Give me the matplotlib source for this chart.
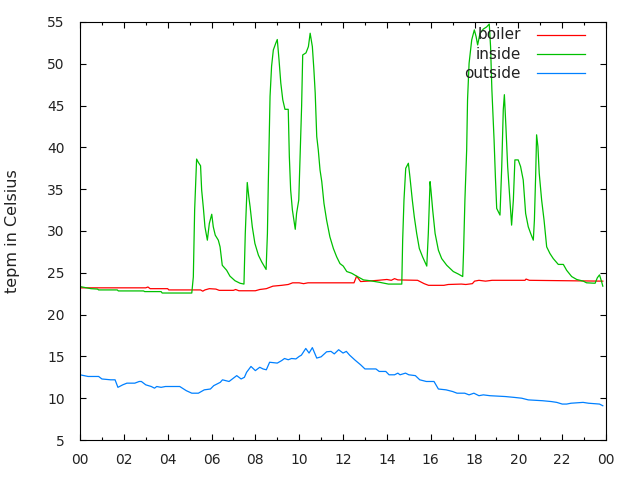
import matplotlib
matplotlib.use("Agg")
import matplotlib.pyplot as plt
from matplotlib.ticker import MultipleLocator
import numpy as np

# readings taken every few minutes over one day, (hour, celsius)
boiler = [
    (0, 23.2), (3.0, 23.2), (3.1, 23.3), (3.2, 23.1), (4.0, 23.1), (4.05, 22.95),
    (5.5, 22.95), (5.6, 22.8), (5.7, 22.95), (5.9, 23.1), (6.2, 23.05), (6.35, 22.9),
    (7.0, 22.9), (7.1, 23.0), (7.25, 22.85), (8.0, 22.85), (8.2, 23.0), (8.5, 23.1),
    (8.8, 23.4), (9.2, 23.5), (9.5, 23.6), (9.7, 23.8), (10.0, 23.8), (10.2, 23.7),
    (10.4, 23.8), (12.5, 23.8), (12.62, 24.6), (12.8, 23.95), (13.1, 24.0), (13.6, 24.1),
    (14.0, 24.2), (14.2, 24.1), (14.35, 24.3), (14.5, 24.15), (15.4, 24.1), (15.7, 23.7),
    (15.9, 23.5), (16.6, 23.5), (16.8, 23.6), (17.4, 23.65), (17.6, 23.6), (17.9, 23.7),
    (18.0, 24.0), (18.2, 24.1), (18.5, 24.0), (18.8, 24.1), (20.3, 24.1), (20.35, 24.25),
    (20.5, 24.1), (23.85, 24.0),
]

inside = [
    (0, 23.35), (0.5, 23.1), (0.8, 23.05), (0.85, 22.95), (1.7, 22.95), (1.75, 22.83),
    (2.9, 22.83), (2.95, 22.75), (3.7, 22.75), (3.75, 22.58), (5.1, 22.58), (5.17, 24.5),
    (5.2, 28.5), (5.23, 32.5), (5.29, 36.5), (5.32, 38.6), (5.40, 38.2), (5.5, 37.8),
    (5.55, 34.9), (5.63, 32.7), (5.7, 30.5), (5.81, 28.9), (5.9, 30.9), (6.01, 32.0),
    (6.08, 30.5), (6.17, 29.5), (6.31, 28.9), (6.39, 28.1), (6.49, 25.9), (6.69, 25.3),
    (6.84, 24.6), (7.07, 24.05), (7.3, 23.75), (7.48, 23.65), (7.54, 29.7), (7.63, 35.8),
    (7.7, 34.1), (7.76, 32.9), (7.86, 30.5), (7.98, 28.5), (8.14, 27.1), (8.29, 26.3),
    (8.49, 25.4), (8.55, 29.7), (8.59, 35.7), (8.64, 42.1), (8.67, 46.1), (8.74, 49.7),
    (8.82, 51.65), (8.93, 52.45), (9.0, 52.9), (9.08, 50.45), (9.16, 47.7), (9.25, 45.7),
    (9.35, 44.55), (9.5, 44.55), (9.55, 38.9), (9.61, 34.9), (9.69, 32.5), (9.76, 31.3),
    (9.82, 30.2), (9.88, 32.1), (9.98, 33.7), (10.04, 38.9), (10.11, 44.9), (10.16, 51.05),
    (10.31, 51.3), (10.42, 52.05), (10.5, 53.65), (10.6, 52.05), (10.67, 49.3), (10.73, 46.5),
    (10.8, 41.3), (10.87, 39.7), (10.95, 37.3), (11.03, 35.9), (11.13, 33.3), (11.25, 31.3),
    (11.4, 29.3), (11.56, 27.9), (11.71, 26.9), (11.86, 26.1), (12.01, 25.8), (12.17, 25.15),
    (12.39, 24.95), (12.62, 24.6), (12.93, 24.15), (13.23, 24.05), (13.69, 23.85), (14.07, 23.65),
    (14.68, 23.65), (14.72, 28.9), (14.78, 33.7), (14.86, 37.5), (14.98, 38.1), (15.05, 36.5),
    (15.16, 33.7), (15.25, 31.7), (15.36, 29.7), (15.48, 27.9), (15.63, 26.9), (15.82, 25.8),
    (15.89, 29.7), (15.97, 35.9), (16.01, 34.9), (16.09, 32.5), (16.2, 29.7), (16.35, 27.7),
    (16.5, 26.7), (16.73, 25.9), (17.03, 25.15), (17.26, 24.85), (17.46, 24.55), (17.5, 27.7),
    (17.56, 33.7), (17.64, 39.7), (17.68, 45.7), (17.75, 50.05), (17.87, 52.85), (17.99, 54.05),
    (18.07, 53.25), (18.14, 52.25), (18.25, 53.65), (18.4, 54.15), (18.55, 54.4), (18.67, 54.75),
    (18.73, 52.05), (18.79, 46.9), (18.89, 40.9), (18.95, 36.5), (19.01, 32.7), (19.16, 31.9),
    (19.24, 37.7), (19.31, 44.5), (19.36, 46.3), (19.43, 42.5), (19.51, 37.7), (19.62, 33.3),
    (19.69, 30.7), (19.77, 33.7), (19.84, 38.5), (19.99, 38.5), (20.1, 37.7), (20.22, 36.1),
    (20.33, 32.1), (20.45, 30.5), (20.56, 29.7), (20.68, 28.9), (20.73, 31.3), (20.79, 36.9),
    (20.83, 41.5), (20.89, 40.1), (20.95, 36.9), (21.06, 33.7), (21.17, 31.3), (21.29, 28.1),
    (21.44, 27.3), (21.59, 26.7), (21.82, 26.0), (22.05, 26.0), (22.2, 25.3), (22.43, 24.55),
    (22.66, 24.2), (22.96, 24.0), (23.11, 23.8), (23.42, 23.75), (23.5, 23.75), (23.6, 24.4),
    (23.7, 24.75), (23.8, 23.9), (23.85, 23.4),
]

outside = [
    (0, 12.8), (0.37, 12.6), (0.85, 12.6), (1.0, 12.3), (1.4, 12.2), (1.6, 12.2),
    (1.73, 11.3), (1.95, 11.6), (2.14, 11.8), (2.5, 11.8), (2.7, 12.0), (2.8, 12.0),
    (3.0, 11.6), (3.25, 11.4), (3.4, 11.2), (3.5, 11.4), (3.7, 11.3), (3.9, 11.4),
    (4.55, 11.4), (4.85, 10.9), (5.1, 10.6), (5.4, 10.6), (5.67, 11.0), (5.95, 11.1),
    (6.1, 11.5), (6.4, 11.9), (6.5, 12.2), (6.8, 12.0), (7.05, 12.5), (7.15, 12.7),
    (7.35, 12.3), (7.5, 12.5), (7.6, 13.1), (7.8, 13.8), (8.0, 13.3), (8.2, 13.7),
    (8.35, 13.5), (8.5, 13.4), (8.65, 14.3), (9.0, 14.2), (9.2, 14.5), (9.33, 14.75),
    (9.5, 14.6), (9.65, 14.75), (9.85, 14.7), (10.0, 15.0), (10.1, 15.15), (10.3, 15.95),
    (10.45, 15.4), (10.6, 16.05), (10.8, 14.8), (11.0, 14.95), (11.25, 15.55), (11.45, 15.6),
    (11.6, 15.3), (11.8, 15.8), (12.0, 15.4), (12.15, 15.6), (12.3, 15.15), (12.55, 14.55),
    (12.8, 14.0), (13.0, 13.5), (13.5, 13.5), (13.65, 13.2), (13.95, 13.2), (14.1, 12.8),
    (14.35, 12.8), (14.5, 13.0), (14.6, 12.8), (14.85, 13.0), (15.0, 12.8), (15.3, 12.7),
    (15.5, 12.2), (15.8, 12.0), (16.15, 12.0), (16.35, 11.1), (16.7, 11.0), (17.0, 10.8),
    (17.2, 10.6), (17.55, 10.6), (17.75, 10.4), (17.97, 10.6), (18.2, 10.3), (18.4, 10.4),
    (18.7, 10.3), (19.4, 10.2), (19.8, 10.1), (20.15, 10.0), (20.45, 9.8), (21.1, 9.7),
    (21.5, 9.6), (21.75, 9.5), (22.0, 9.3), (22.2, 9.3), (22.4, 9.4), (22.95, 9.5),
    (23.2, 9.4), (23.7, 9.3), (23.85, 9.1),
]

series_names = ["boiler", "inside", "outside"]
series_colors = ["#ff0000", "#00c000", "#0080ff"]
hour_labels = ["00", "02", "04", "06", "08", "10", "12", "14", "16", "18", "20", "22", "00"]

plt.rcParams["font.family"] = ["DejaVu Sans"]

fig = plt.figure(figsize=(6.4, 4.8), dpi=100)
ax = fig.add_axes([0.125, 0.0833, 0.822, 0.871])

for data, name, color in zip([boiler, inside, outside], series_names, series_colors):
    arr = np.array(data)
    ax.plot(arr[:, 0], arr[:, 1], color=color, linewidth=0.9, label=name)

ax.set_xlim(0, 24)
ax.set_ylim(5, 55)
ax.set_xticks(np.arange(0, 25, 2))
ax.set_xticklabels(hour_labels)
ax.xaxis.set_minor_locator(MultipleLocator(1))
ax.yaxis.set_major_locator(MultipleLocator(5))

ax.tick_params(which="both", direction="in", top=True, right=True, colors="black",
               labelcolor="#222222", labelsize=10)
ax.tick_params(axis="y", which="major", length=4.5, width=0.8, pad=11)
ax.tick_params(axis="x", which="major", length=4.5, width=0.8, pad=9.5)
ax.tick_params(which="minor", length=2.5, width=0.8)
for spine in ax.spines.values():
    spine.set_linewidth(0.8)

fig.text(13 / 640, 0.519, "tepm in Celsius", rotation=90, ha="center", va="center",
         fontsize=11.5, color="#222222")

# gnuplot style key: right aligned text, then a line sample
key_rows = [0.969, 0.923, 0.877]
for name, color, ky in zip(series_names, series_colors, key_rows):
    ax.text(0.838, ky, name, transform=ax.transAxes, ha="right", va="center",
            fontsize=11, color="#222222")
    ax.plot([0.869, 0.960], [ky, ky], transform=ax.transAxes, color=color, linewidth=0.9)

fig.savefig("out.png", dpi=100)
